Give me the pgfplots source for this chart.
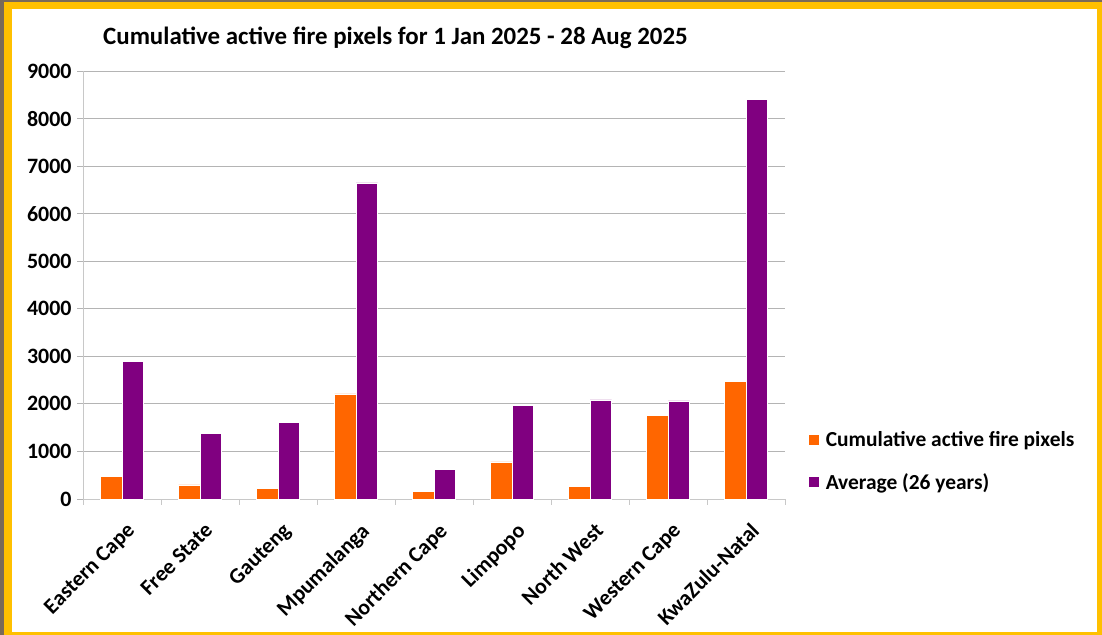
\documentclass[border=0pt]{standalone}
\usepackage{pgfplots}
\pgfplotsset{compat=1.18}
\usepackage{fontspec}
\setmainfont{Carlito}
\definecolor{frameyellow}{HTML}{FFC000}
\definecolor{framebg}{HTML}{7A6A58}
\definecolor{barorange}{HTML}{FF6600}
\definecolor{barpurple}{HTML}{800080}
\definecolor{gridgray}{HTML}{B4B4B4}
\definecolor{axisgray}{HTML}{C8C8C8}
\newcommand{\lblfont}{\bfseries\fontsize{22}{24}\selectfont}
\newcommand{\legfont}{\bfseries\fontsize{21.5}{23}\selectfont}
\begin{document}
\begin{tikzpicture}[x=1bp,y=1bp]
\fill[framebg] (0,0) rectangle (1102,635);
\fill[frameyellow] (4,0) rectangle (1102,633);
\fill[white] (12,3) rectangle (1097,626);
\node[anchor=west, inner sep=0pt, font=\bfseries\fontsize{25}{27}\selectfont] at (103,597) {Cumulative active fire pixels for 1 Jan 2025 - 28 Aug 2025};
\begin{axis}[
  at={(83bp,136bp)}, anchor=south west,
  scale only axis, width=702bp, height=428bp,
  ybar=0pt, bar width=21.5bp,
  xmin=-0.5, xmax=8.5, ymin=0, ymax=9000,
  ytick={0,1000,...,9000},
  xtick={0,...,8},
  xticklabels={Eastern Cape,Free State,Gauteng,Mpumalanga,Northern Cape,Limpopo,North West,Western Cape,KwaZulu-Natal},
  x tick label style={rotate=45, anchor=north east, font=\lblfont, inner sep=1pt, xshift=-8bp, yshift=-13bp},
  y tick label style={font=\lblfont, xshift=-2bp},
  /pgf/number format/.cd, 1000 sep={}, assume math mode=true, /pgfplots/.cd,
  axis x line*=bottom, axis y line*=left,
  axis line style={draw=axisgray, line width=0.8bp},
  ymajorgrids, grid style={draw=gridgray, line width=0.8bp},
  y axis line style={-}, x axis line style={-},
  major x tick style={draw=none},
  major y tick style={draw=gridgray, line width=0.8bp},
  major tick length=6bp,
  tick align=outside,
  extra x ticks={-0.5,0.5,...,8.5},
  extra x tick labels={},
  extra x tick style={major x tick style={draw=axisgray, line width=0.8bp}, major tick length=6bp, grid=none},
  enlarge x limits=false,
  legend style={at={(1.033,0.162)}, anchor=north west, draw=none, fill=none, font=\legfont, row sep=21bp, column sep=4bp, inner sep=0pt, legend cell align=left},
  legend image code/.code={\fill[#1] (0bp,-5.5bp) rectangle (11bp,5.5bp);},
  clip=false,
]
\addplot[fill=barorange, draw=white, line width=0.4bp] coordinates {
(0,470) (1,295) (2,225) (3,2208) (4,168) (5,778) (6,273) (7,1766) (8,2475)};
\addplot[fill=barpurple, draw=white, line width=0.4bp] coordinates {
(0,2890) (1,1375) (2,1612) (3,6645) (4,624) (5,1970) (6,2082) (7,2061) (8,8400)};
\legend{Cumulative active fire pixels, Average (26 years)}
\end{axis}
\end{tikzpicture}
\end{document}
